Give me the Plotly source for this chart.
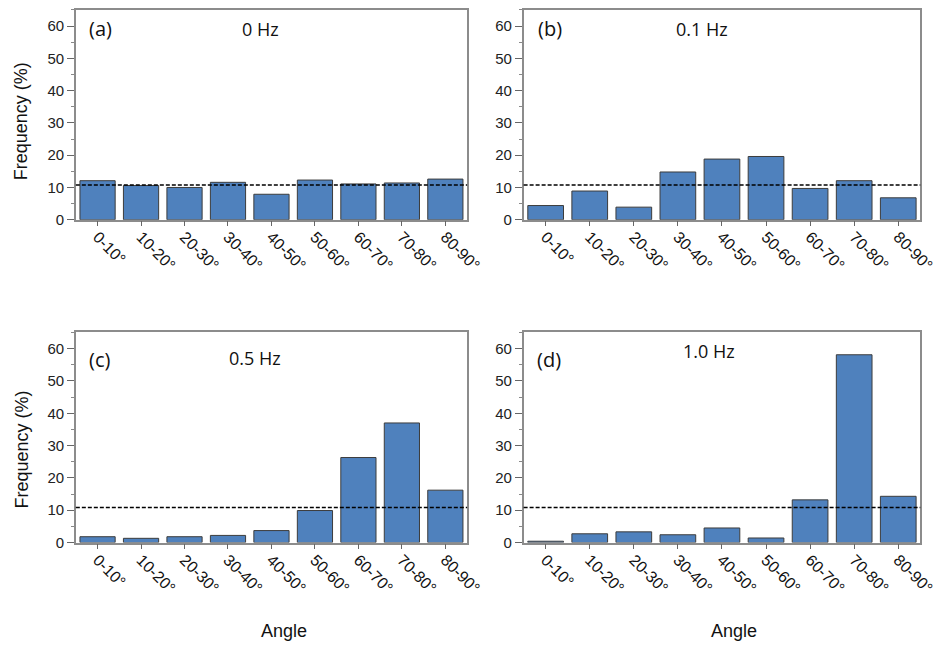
import plotly.graph_objects as go

categories = ["0-10°", "10-20°", "20-30°", "30-40°", "40-50°", "50-60°", "60-70°", "70-80°", "80-90°"]
freq_0hz = [12.1, 10.6, 10.0, 11.6, 7.9, 12.3, 11.1, 11.4, 12.6]
freq_01hz = [4.4, 8.9, 3.9, 14.8, 18.8, 19.6, 9.7, 12.1, 6.8]
freq_05hz = [1.8, 1.3, 1.8, 2.2, 3.7, 9.9, 26.3, 37.0, 16.2]
freq_10hz = [0.4, 2.7, 3.3, 2.4, 4.5, 1.4, 13.2, 58.1, 14.3]
panel_letters = ["(a)", "(b)", "(c)", "(d)"]
panel_titles = ["0 Hz", "0.1 Hz", "0.5 Hz", "1.0 Hz"]
uniform_level = 10.8
y_ticks = [0, 10, 20, 30, 40, 50, 60]

series = [freq_0hz, freq_01hz, freq_05hz, freq_10hz]

W, H = 945, 651
OFF = 8  # default page body margin


def fx(px):
    return (px - OFF) / W


def fy(py):
    return 1 - (py - OFF) / H


# domains (pixel based, in page coordinates)
xdoms = [(77, 475), (532.5, 936), (77, 475), (532.5, 936)]
ydoms = [(221.7, 9), (221.7, 9), (549, 336), (549, 336)]
letter_pos = [(88, 28), (545, 28), (88, 363), (544, 363)]
title_pos = [(265, 28), (714, 28), (259, 362), (721, 355)]

fig = go.Figure()
tick_font = dict(family="Liberation Sans, Arial, sans-serif", size=15, color="#222222")
xtick_font = dict(family="Liberation Sans, Arial, sans-serif", size=16, color="#111111")
label_font = "Open Sans, Noto Sans, sans-serif"

for i, vals in enumerate(series):
    xa = "x" if i == 0 else f"x{i+1}"
    ya = "y" if i == 0 else f"y{i+1}"
    fig.add_trace(go.Bar(
        x=categories, y=vals, xaxis=xa, yaxis=ya,
        marker=dict(color="#4f81bd", line=dict(color="#3c3c3c", width=1)),
        showlegend=False,
    ))
    xkey = "xaxis" if i == 0 else f"xaxis{i+1}"
    ykey = "yaxis" if i == 0 else f"yaxis{i+1}"
    fig.update_layout(**{
        xkey: dict(
            domain=[fx(xdoms[i][0]), fx(xdoms[i][1])],
            anchor=ya, type="category", range=[-0.5, 8.5],
            showline=True, mirror=True, linecolor="#8c8c8c", linewidth=1.5,
            ticks="outside", ticklen=5, tickcolor="#666666",
            ticklabelstandoff=-5,
            tickangle=45, tickfont=xtick_font, showgrid=False, zeroline=False,
        ),
        ykey: dict(
            domain=[fy(ydoms[i][0]), fy(ydoms[i][1])],
            anchor=xa, range=[0, 65], tickvals=y_ticks,
            showline=True, mirror=True, linecolor="#8c8c8c", linewidth=1.5,
            ticks="outside", ticklen=7, tickcolor="#666666",
            minor=dict(dtick=5, ticks="outside", ticklen=3, tickcolor="#888888"),
            tickfont=tick_font, showgrid=False, zeroline=False,
        ),
    })
    fig.add_shape(type="line", xref=f"{xa} domain", yref=ya,
                  x0=0, x1=1, y0=uniform_level, y1=uniform_level,
                  line=dict(color="black", width=1.5, dash="4px,2px"))
    lx, ly = letter_pos[i]
    fig.add_annotation(x=fx(lx), y=fy(ly), xref="paper", yref="paper",
                       text=panel_letters[i], showarrow=False, xanchor="left", yanchor="middle",
                       font=dict(family=label_font, size=20, color="#111111"))
    tx, ty = title_pos[i]
    fig.add_annotation(x=fx(tx), y=fy(ty), xref="paper", yref="paper",
                       text=panel_titles[i], showarrow=False, xanchor="center", yanchor="middle",
                       font=dict(family=label_font, size=18, color="#111111"))

# y titles
for yc in [122, 455]:
    fig.add_annotation(x=fx(22), y=fy(yc), xref="paper", yref="paper",
                       text="Frequency (%)", textangle=-90, showarrow=False,
                       xanchor="center", yanchor="middle",
                       font=dict(family="Liberation Sans, Arial, sans-serif", size=18, color="#111111"))
# x titles
for xc in [289, 747]:
    fig.add_annotation(x=fx(xc), y=fy(639), xref="paper", yref="paper",
                       text="Angle", showarrow=False, xanchor="center", yanchor="middle",
                       font=dict(family="Liberation Sans, Arial, sans-serif", size=18, color="#111111"))

fig.update_layout(width=W, height=H, margin=dict(l=0, r=0, t=0, b=0),
                  plot_bgcolor="white", paper_bgcolor="white", bargap=0.19)
fig.write_html("out.html")
